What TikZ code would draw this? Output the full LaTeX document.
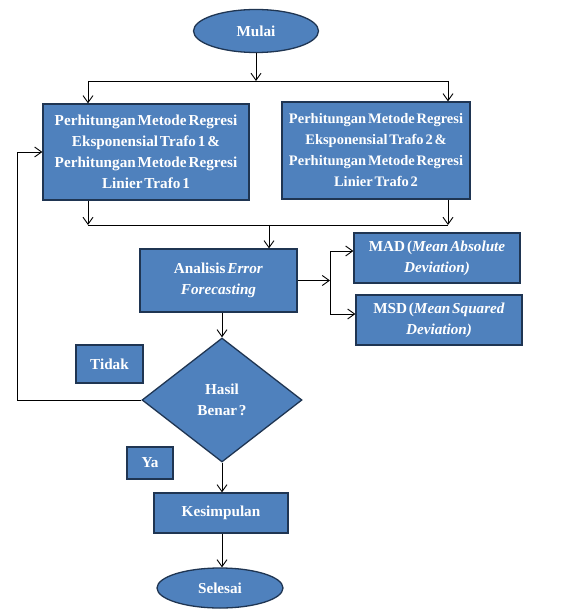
\documentclass[tikz,border=0pt]{standalone}
\usepackage{fontspec}
\setmainfont[WordSpace=0.5]{Liberation Serif}
\usetikzlibrary{arrows.meta,shapes.geometric,calc}
\definecolor{boxfill}{HTML}{4F81BD}
\definecolor{boxline}{HTML}{1F3552}
\begin{document}
\begin{tikzpicture}[x=1pt,y=-1pt,
  base/.style={draw=boxline,fill=boxfill,line width=1.3pt,text=white,
    font=\fontsize{15.2}{21}\selectfont\bfseries,align=center,inner sep=0pt},
  box/.style={base,rectangle},
  oval/.style={base,ellipse},
  decision/.style={base,diamond},
  arr/.style={-{Straight Barb[length=7pt,width=10pt]},line width=0.9pt},
  ln/.style={line width=0.9pt}]
\useasboundingbox (0,0) rectangle (573,609);
\fill[white] (0,0) rectangle (573,609);

\node[oval,minimum width=125pt,minimum height=43pt] (mulai) at (256,31) {Mulai};
\node[box,minimum width=206pt,minimum height=96pt] (b1) at (146,152)
  {Perhitungan Metode Regresi\\Eksponensial Trafo 1 \&\\Perhitungan Metode Regresi\\Linier Trafo 1};
\node[box,minimum width=188pt,minimum height=97pt,font=\fontsize{14.5}{21}\selectfont\bfseries] (b2) at (376,150.5)
  {Perhitungan Metode Regresi\\Eksponensial Trafo 2 \&\\Perhitungan Metode Regresi\\Linier Trafo 2};
\node[box,minimum width=157pt,minimum height=63pt] (ana) at (218.5,280.5)
  {Analisis \textit{Error}\\\textit{Forecasting}};
\node[box,minimum width=166pt,minimum height=50pt] (mad) at (437,258)
  {MAD (\textit{Mean Absolute}\\\textit{Deviation)}};
\node[box,minimum width=166pt,minimum height=50pt] (msd) at (439,320)
  {MSD (\textit{Mean Squared}\\\textit{Deviation)}};
\node[decision,minimum width=160pt,minimum height=124pt] (dia) at (222,400)
  {Hasil\\Benar ?};
\node[box,minimum width=67pt,minimum height=38pt] (tidak) at (109.5,364) {Tidak};
\node[box,minimum width=46pt,minimum height=32pt] (ya) at (150,463) {Ya};
\node[box,minimum width=134pt,minimum height=40pt] (kes) at (221,513) {Kesimpulan};
\node[oval,minimum width=126pt,minimum height=40pt] (sel) at (220,588) {Selesai};

% top split
\coordinate (j1) at (256,81);
\coordinate (j1l) at (88,81);
\coordinate (j1r) at (448,81);
\draw[arr] (mulai) -- (j1);
\draw[ln] (j1l) -- (j1r);
\draw[arr] (j1l) -- (j1l |- b1.north);
\draw[arr] (j1r) -- (j1r |- b2.north);

% merge
\coordinate (j2l) at (88,225);
\coordinate (j2r) at (448,225);
\coordinate (j2) at (269,225);
\draw[arr] (j2l |- b1.south) -- (j2l);
\draw[arr] (j2r |- b2.south) -- (j2r);
\draw[ln] (j2l) -- (j2r);
\draw[arr] (j2) -- (j2 |- ana.north);

% branch to MAD / MSD
\coordinate (br) at (330,280.5);
\coordinate (bra) at (330,251);
\coordinate (brb) at (330,314);
\draw[arr] (ana.east) -- (br);
\draw[ln] (bra) -- (brb);
\draw[arr] (bra) -- (bra -| mad.west);
\draw[arr] (brb) -- (brb -| msd.west);

% main flow
\draw[arr] (ana.south -| dia.north) -- (dia.north);
\coordinate (lp) at (17,400);
\draw[arr] (dia.west) -- (lp) |- (b1.west);
\draw[arr] (dia.south) -- (kes.north -| dia.south);
\draw[arr] (kes.south -| dia.south) -- (sel.north -| dia.south);
\end{tikzpicture}
\end{document}
